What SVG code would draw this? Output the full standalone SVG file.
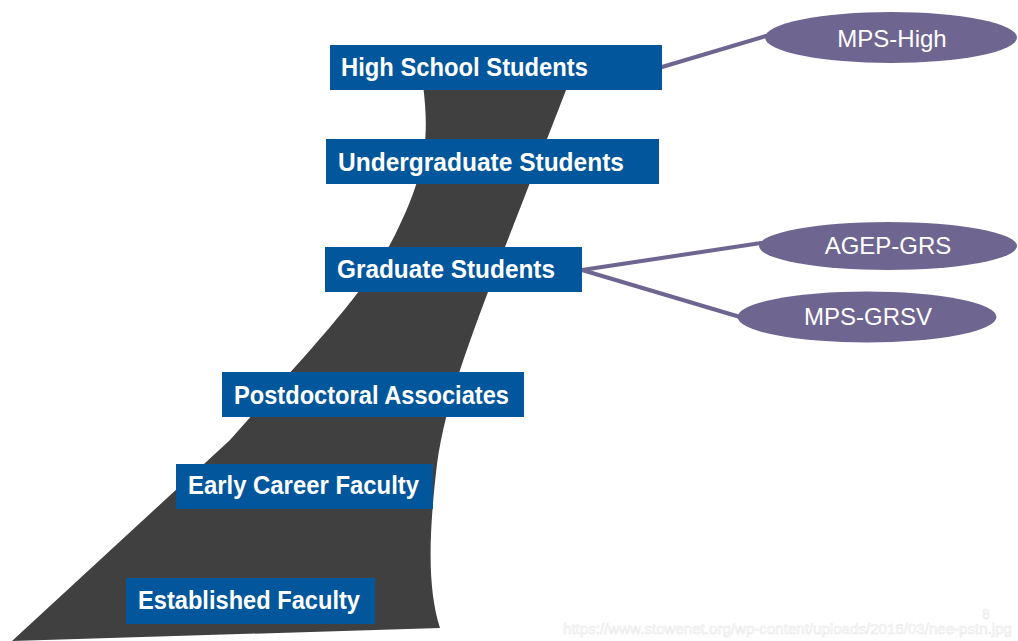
<svg xmlns="http://www.w3.org/2000/svg" width="1018" height="641" viewBox="0 0 1018 641">
<style>
.box{fill:#02569B}
.lbl{fill:#ffffff;font-family:"Liberation Sans",Arial,sans-serif;font-weight:bold;font-size:25px}
.ell{fill:#6E6590}
.elbl{fill:#ffffff;font-family:"Liberation Sans",Arial,sans-serif;font-size:24px;text-anchor:middle}
.con{stroke:#6E6590;stroke-width:4;fill:none;stroke-linecap:round}
.wm{fill:#ffffff;stroke:#e6e6e6;stroke-width:0.5;font-family:"Liberation Sans",Arial,sans-serif;font-size:14px}
</style>
<rect width="1018" height="641" fill="#ffffff"/>
<path id="road" d="M423,85 C430,140 425,175 395,235 C365,295 300,360 230,440 L12,641 L440,628 C428,590 428,540 437,464 C446,400 470,340 505,247 L568,85 Z" fill="#404040"/>
<g id="connectors">
<line class="con" x1="662" y1="67" x2="766" y2="36"/>
<line class="con" x1="582" y1="270" x2="761" y2="243"/>
<line class="con" x1="582" y1="270" x2="740" y2="317"/>
</g>
<g id="n-high"><rect class="box" x="330" y="45" width="332" height="45"/><text class="lbl" x="341" y="76" textLength="247" lengthAdjust="spacingAndGlyphs">High School Students</text></g>
<g id="n-under"><rect class="box" x="326" y="139" width="333" height="45"/><text class="lbl" x="338" y="171" textLength="286" lengthAdjust="spacingAndGlyphs">Undergraduate Students</text></g>
<g id="n-grad"><rect class="box" x="325" y="247" width="257" height="45"/><text class="lbl" x="337" y="278" textLength="218" lengthAdjust="spacingAndGlyphs">Graduate Students</text></g>
<g id="n-postdoc"><rect class="box" x="222" y="372" width="302" height="45"/><text class="lbl" x="234" y="404" textLength="275" lengthAdjust="spacingAndGlyphs">Postdoctoral Associates</text></g>
<g id="n-early"><rect class="box" x="176" y="464" width="257" height="45"/><text class="lbl" x="188" y="494" textLength="231" lengthAdjust="spacingAndGlyphs">Early Career Faculty</text></g>
<g id="n-est"><rect class="box" x="126" y="578" width="249" height="46"/><text class="lbl" x="138" y="609" textLength="222" lengthAdjust="spacingAndGlyphs">Established Faculty</text></g>
<g id="n-mpshigh"><ellipse class="ell" cx="891" cy="37.5" rx="126" ry="25.5"/><text class="elbl" x="892" y="47">MPS-High</text></g>
<g id="n-agep"><ellipse class="ell" cx="888" cy="246" rx="129" ry="24"/><text class="elbl" x="888" y="254">AGEP-GRS</text></g>
<g id="n-mpsgrsv"><ellipse class="ell" cx="867" cy="317" rx="129.5" ry="25.5"/><text class="elbl" x="868" y="325">MPS-GRSV</text></g>
<text class="wm" x="982" y="619" font-size="13">8</text>
<text class="wm" x="563" y="634" textLength="449" lengthAdjust="spacingAndGlyphs">https://www.stowenet.org/wp-content/uploads/2016/03/nee-pstn.jpg</text>
</svg>
